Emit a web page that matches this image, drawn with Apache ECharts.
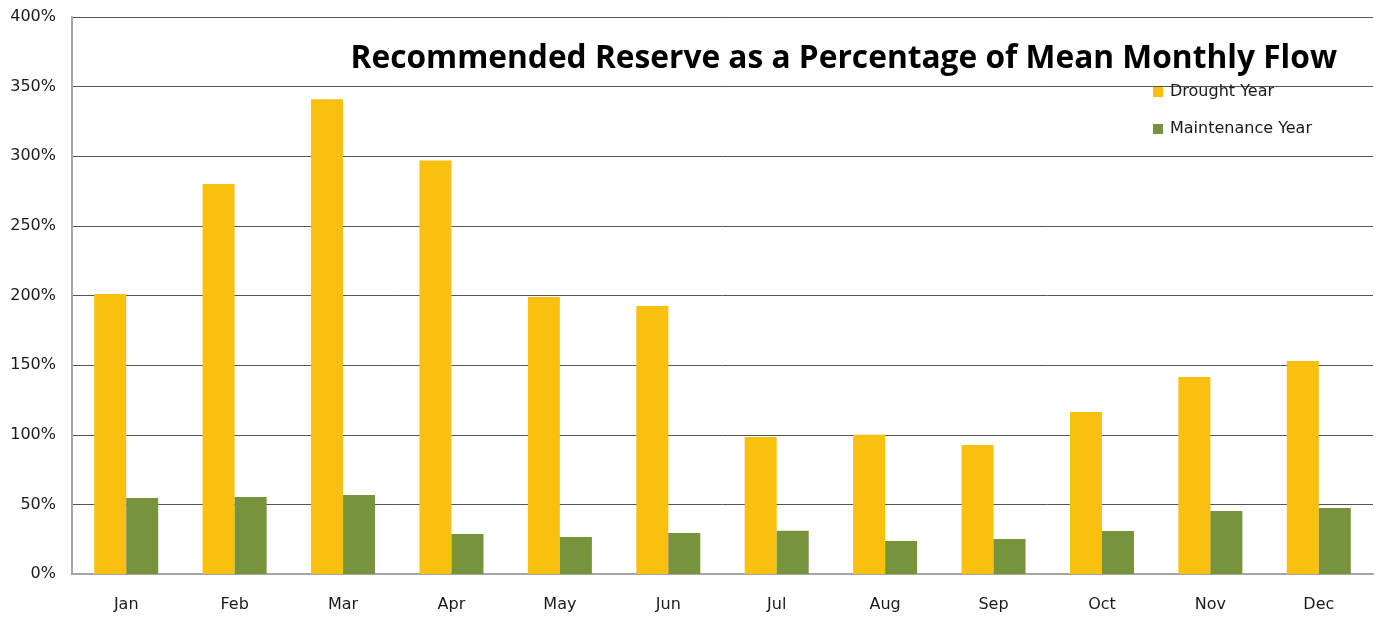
<!DOCTYPE html>
<html>
<head>
<meta charset="utf-8">
<script src="https://cdn.jsdelivr.net/npm/echarts@6/dist/echarts.min.js"></script>
<style>html,body{margin:0;padding:0;background:#fff;}#c{width:1384px;height:620px;}</style>
</head>
<body>
<div id="c"></div>
<script>
const categories = ['Jan','Feb','Mar','Apr','May','Jun','Jul','Aug','Sep','Oct','Nov','Dec'];
const droughtYear = [201, 280, 341, 297, 199, 192.5, 98.4, 100, 92.6, 116.3, 141.5, 153];
const maintenanceYear = [54.6, 55.3, 56.7, 28.7, 26.6, 29.4, 31, 23.7, 25.1, 30.9, 45.2, 47.4];
const seriesNames = ['Drought Year', 'Maintenance Year'];
const titleText = 'Recommended Reserve as a Percentage of Mean Monthly Flow';

const titleFont = '"Open Sans", sans-serif';
const font = '"DejaVu Sans", sans-serif';
const chart = echarts.init(document.getElementById('c'), null, {renderer: 'canvas'});
chart.setOption({
  animation: false,
  backgroundColor: '#fff',
  title: {
    text: titleText,
    right: 42, top: 38,
    textStyle: {fontFamily: titleFont, fontWeight: 'bold', fontSize: 31.7, color: '#000'}
  },
  legend: {
    orient: 'vertical',
    left: 1148, top: 79,
    itemWidth: 10, itemHeight: 10, itemGap: 21,
    icon: 'rect',
    textStyle: {fontFamily: font, fontSize: 16, color: '#1a1a1a', padding: [0, 0, 0, 2]},
    data: seriesNames
  },
  grid: {left: 72, right: 11, top: 17, bottom: 46, containLabel: false},
  xAxis: {
    type: 'category',
    data: categories,
    axisLine: {lineStyle: {color: '#a6a6a6', width: 2}},
    axisTick: {show: false},
    axisLabel: {fontFamily: font, fontSize: 16, color: '#1a1a1a', margin: 23}
  },
  yAxis: {
    type: 'value',
    min: 0, max: 400, interval: 50,
    axisLine: {show: true, lineStyle: {color: '#a6a6a6', width: 2}},
    axisTick: {show: false},
    axisLabel: {fontFamily: font, fontSize: 16, color: '#1a1a1a', margin: 16, formatter: '{value}%'},
    splitLine: {lineStyle: {color: '#555', width: 1}}
  },
  series: [
    {name: seriesNames[0], type: 'bar', data: droughtYear, barWidth: 32, barGap: '0%', itemStyle: {color: '#FAC010'}},
    {name: seriesNames[1], type: 'bar', data: maintenanceYear, barWidth: 32, barGap: '0%', itemStyle: {color: '#77933C'}}
  ]
});
</script>
</body>
</html>
